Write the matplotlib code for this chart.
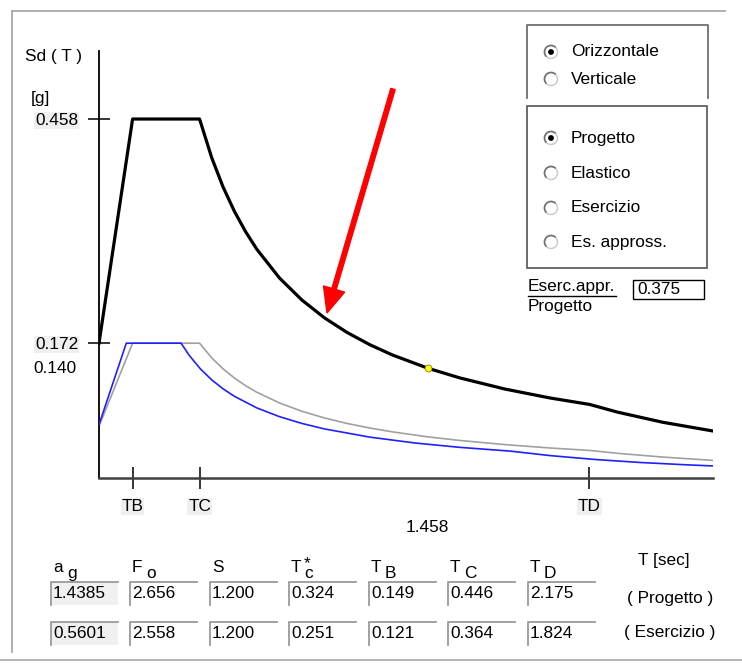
import matplotlib
matplotlib.use("Agg")
import matplotlib.pyplot as plt
from matplotlib.patches import Rectangle, Circle, Arc, FancyArrow

# spettro di progetto (linea nera)
T_PROGETTO = [0.0, 0.149, 0.446, 0.50, 0.55, 0.60, 0.65, 0.70, 0.80, 0.90, 1.00,
              1.10, 1.20, 1.30, 1.458, 1.60, 1.80, 2.00, 2.175, 2.30, 2.50, 2.72]
SD_PROGETTO = [0.172, 0.458, 0.458, 0.4085, 0.3714, 0.3405, 0.3143, 0.2918, 0.2553,
               0.2270, 0.2043, 0.1857, 0.1702, 0.1571, 0.1401, 0.1277, 0.1135,
               0.1021, 0.0939, 0.0840, 0.0711, 0.0601]
# esercizio approssimato (grigio), stessi periodi del progetto
SD_APPROSS = [0.066, 0.172, 0.172, 0.1532, 0.1393, 0.1277, 0.1178, 0.1094, 0.0958,
              0.0851, 0.0766, 0.0696, 0.0638, 0.0589, 0.0525, 0.0479, 0.0426,
              0.0383, 0.0352, 0.0315, 0.0267, 0.0225]
# spettro di esercizio (blu)
T_ESERCIZIO = [0.0, 0.121, 0.364, 0.40, 0.45, 0.50, 0.55, 0.60, 0.70, 0.80, 0.90,
               1.00, 1.20, 1.40, 1.60, 1.824, 2.00, 2.20, 2.40, 2.60, 2.72]
SD_ESERCIZIO = [0.068, 0.172, 0.172, 0.1565, 0.1391, 0.1252, 0.1138, 0.1043, 0.0894,
                0.0783, 0.0696, 0.0626, 0.0522, 0.0447, 0.0391, 0.0343, 0.0286,
                0.0236, 0.0198, 0.0169, 0.0154]

T_PUNTO = 1.458
SD_PUNTO = 0.140

Y_TICKS = [0.458, 0.172]
X_TICKS = [0.149, 0.446, 2.175]
X_TICK_LABELS = ["TB", "TC", "TD"]

PARAM_NAMES = [("a", "g"), ("F", "o"), ("S", ""), ("T", "*\nc"), ("T", "B"), ("T", "C"), ("T", "D")]
VAL_PROGETTO = ["1.4385", "2.656", "1.200", "0.324", "0.149", "0.446", "2.175"]
VAL_ESERCIZIO = ["0.5601", "2.558", "1.200", "0.251", "0.121", "0.364", "1.824"]

RADIO_1 = ["Orizzontale", "Verticale"]
RADIO_2 = ["Progetto", "Elastico", "Esercizio", "Es. appross."]
RAPPORTO = "0.375"

W, H = 742, 663
FS = 12.4
plt.rcParams["font.family"] = ["Liberation Sans", "DejaVu Sans"]

fig = plt.figure(figsize=(W / 100, H / 100), dpi=100)
fig.patch.set_facecolor("white")

# assi "interfaccia" in pixel
ui = fig.add_axes([0, 0, 1, 1], zorder=0)
ui.set_xlim(0, W)
ui.set_ylim(H, 0)
ui.axis("off")

# cornice
ui.plot([12, 12], [11, 652], color="#a8a8a8", lw=1.3)
ui.plot([12, 725], [11, 11], color="#a8a8a8", lw=1.3)
ui.plot([0, W], [660, 660], color="#b0b0b0", lw=1.3)

# grafico
x0, x1, ytop, ybot = 99, 713, 51, 478
ax = fig.add_axes([x0 / W, 1 - ybot / H, (x1 - x0) / W, (ybot - ytop) / H], zorder=1)
ax.patch.set_alpha(0)
px_per_s = 225.5
px_per_g = 783.8
ax.set_xlim(0, (x1 - x0) / px_per_s)
ax.set_ylim(0, (ybot - ytop) / px_per_g)
for s in ["top", "right"]:
    ax.spines[s].set_visible(False)
ax.spines["left"].set_linewidth(1.3)
ax.spines["bottom"].set_linewidth(1.8)
ax.spines["bottom"].set_color("#404040")

ax.plot(T_PROGETTO, SD_APPROSS, color="#a0a0a0", lw=1.2, zorder=2)
ax.plot(T_ESERCIZIO, SD_ESERCIZIO, color="#2020ff", lw=1.2, zorder=3)
ax.plot(T_PROGETTO, SD_PROGETTO, color="black", lw=2.3, zorder=4)
ax.plot([T_PUNTO], [SD_PUNTO], "o", ms=5, mfc="#ffff00", mec="#808000", mew=0.6, zorder=5)

ax.set_yticks(Y_TICKS, labels=[f"{v:.3f}" for v in Y_TICKS])
ax.set_xticks(X_TICKS, labels=X_TICK_LABELS)
ax.tick_params(axis="y", direction="inout", length=16, width=1.1, pad=7, labelsize=FS)
ax.tick_params(axis="x", direction="inout", length=16, width=1.1, pad=7, labelsize=FS)
for lab in ax.get_yticklabels() + ax.get_xticklabels():
    lab.set_bbox(dict(facecolor="#efefef", edgecolor="none", pad=0.6))

ax.annotate(f"{T_PUNTO:.3f}", xy=(T_PUNTO, 0), xytext=(0, -50), textcoords="offset pixels",
            ha="center", va="center", fontsize=FS, annotation_clip=False)
ax.annotate(f"{SD_PUNTO:.3f}", xy=(0, SD_PUNTO), xytext=(-23, 0), textcoords="offset pixels",
            ha="right", va="center", fontsize=FS, annotation_clip=False)

ui.text(25, 57, "Sd ( T )", fontsize=FS, va="center", ha="left")
ui.text(31, 98, "[g]", fontsize=FS, va="center", ha="left")

# freccia rossa
ax.add_patch(FancyArrow(393, 89, -66, 224, width=4.5, head_width=22, head_length=25,
                        length_includes_head=True, color="#ff0000", transform=ui.transData,
                        clip_on=False, zorder=6))

# pannello radio
ui.plot([527, 527, 708, 708], [98, 25, 25, 98], color="#707070", lw=1.3)
ui.add_patch(Rectangle((527, 106), 180, 162, fill=False, ec="#606060", lw=1.3))


def radio(y, label, selected):
    ui.add_patch(Circle((551, y), 6.5, fc="white", ec="#c8c8c8", lw=1.0))
    ui.add_patch(Arc((551, y), 13, 13, theta1=135, theta2=315, color="#707070", lw=1.2))
    if selected:
        ui.add_patch(Circle((551, y), 2.2, color="black"))
    ui.text(571, y, label, fontsize=FS, va="center", ha="left")


for i, lab in enumerate(RADIO_1):
    radio([52, 79][i], lab, i == 0)
for i, lab in enumerate(RADIO_2):
    radio([138, 173, 208, 242][i], lab, i == 0)

ui.text(528, 287, "Eserc.appr.", fontsize=FS, va="center", ha="left")
ui.plot([528, 616], [296, 296], color="black", lw=1.0)
ui.text(528, 307, "Progetto", fontsize=FS, va="center", ha="left")
ui.add_patch(Rectangle((633, 280), 71, 19, fc="white", ec="black", lw=1.0))
ui.text(637, 290, RAPPORTO, fontsize=FS, va="center", ha="left")

# tabella parametri
box_left = [51, 130, 210, 289, 369, 448, 528]
for j, (main, sub) in enumerate(PARAM_NAMES):
    bx = box_left[j]
    ui.text(bx + 2, 572, main, fontsize=FS, va="baseline", ha="left")
    if "\n" in sub:
        ui.text(bx + 15, 581, sub, fontsize=FS, va="bottom", ha="left", linespacing=0.6)
    elif sub:
        ui.text(bx + 16, 578, sub, fontsize=FS, va="baseline", ha="left")
    for by, vals in [(582, VAL_PROGETTO), (622, VAL_ESERCIZIO)]:
        fc = "#f0f0f0" if j == 0 else "white"
        ui.add_patch(Rectangle((bx, by), 67, 23, fc=fc, ec="none"))
        ui.plot([bx, bx, bx + 67], [by + 23, by, by], color="#9a9a9a", lw=1.3)
        ui.text(bx + 2, by + 12, vals[j], fontsize=FS, va="center", ha="left")

ui.text(664, 560, "T [sec]", fontsize=FS, va="center", ha="center")
ui.text(670, 598, "( Progetto )", fontsize=FS, va="center", ha="center")
ui.text(670, 633, "( Esercizio )", fontsize=FS, va="center", ha="center")

fig.savefig("out.png", dpi=100, facecolor="white")
